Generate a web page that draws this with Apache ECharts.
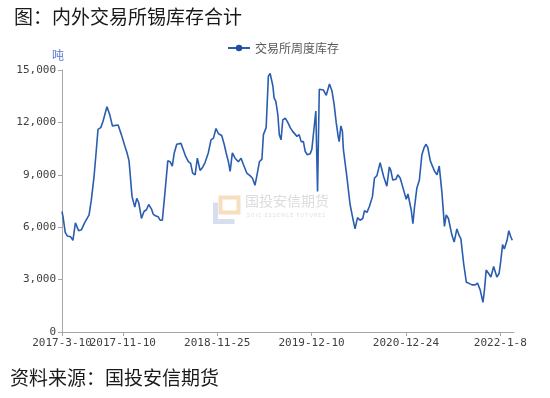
<!DOCTYPE html>
<html>
<head>
<meta charset="utf-8">
<script src="https://cdn.jsdelivr.net/npm/echarts@6/dist/echarts.min.js"></script>
<style>
  html, body { margin: 0; padding: 0; background: #fff; }
  #chart { width: 550px; height: 398px; }
</style>
</head>
<body>
<div id="chart"></div>
<script>
// weekly exchange tin stocks (tons)
const dates = [
  '2017-3-10', '2017-3-14', '2017-3-23', '2017-3-31', '2017-4-14', '2017-4-23', '2017-5-3', '2017-5-16',
  '2017-5-27', '2017-6-9', '2017-6-27', '2017-7-6', '2017-7-17', '2017-7-24', '2017-8-2', '2017-8-13',
  '2017-8-22', '2017-8-29', '2017-9-7', '2017-9-18', '2017-9-29', '2017-10-22', '2017-11-4', '2017-11-18',
  '2017-11-27', '2017-12-5', '2017-12-17', '2017-12-28', '2018-1-5', '2018-1-13', '2018-1-24', '2018-2-3',
  '2018-2-13', '2018-2-22', '2018-3-5', '2018-3-12', '2018-3-21', '2018-4-1', '2018-4-9', '2018-4-18',
  '2018-4-29', '2018-5-10', '2018-5-19', '2018-5-28', '2018-6-5', '2018-6-15', '2018-7-2', '2018-7-11',
  '2018-7-21', '2018-8-1', '2018-8-10', '2018-8-18', '2018-8-28', '2018-9-6', '2018-9-17', '2018-9-26',
  '2018-10-7', '2018-10-20', '2018-10-31', '2018-11-10', '2018-11-20', '2018-11-30', '2018-12-13', '2018-12-23',
  '2018-12-31', '2019-1-9', '2019-1-16', '2019-1-25', '2019-2-5', '2019-2-18', '2019-3-1', '2019-3-10',
  '2019-3-24', '2019-4-6', '2019-4-16', '2019-4-26', '2019-5-3', '2019-5-14', '2019-5-24', '2019-5-30',
  '2019-6-10', '2019-6-19', '2019-6-26', '2019-7-7', '2019-7-12', '2019-7-19', '2019-7-27', '2019-8-2',
  '2019-8-9', '2019-8-16', '2019-8-26', '2019-9-5', '2019-9-15', '2019-9-24', '2019-10-2', '2019-10-12',
  '2019-10-21', '2019-10-29', '2019-11-7', '2019-11-14', '2019-11-23', '2019-12-4', '2019-12-11', '2019-12-18',
  '2019-12-27', '2020-1-3', '2020-1-10', '2020-1-18', '2020-1-27', '2020-2-7', '2020-2-16', '2020-2-20',
  '2020-3-1', '2020-3-10', '2020-3-18', '2020-3-26', '2020-3-30', '2020-4-6', '2020-4-12', '2020-4-16',
  '2020-4-30', '2020-5-13', '2020-5-24', '2020-6-2', '2020-6-12', '2020-6-22', '2020-7-3', '2020-7-10',
  '2020-7-20', '2020-7-30', '2020-8-11', '2020-8-19', '2020-8-29', '2020-9-11', '2020-9-25', '2020-10-8',
  '2020-10-18', '2020-10-24', '2020-11-1', '2020-11-14', '2020-11-21', '2020-12-1', '2020-12-10', '2020-12-18',
  '2020-12-25', '2021-1-1', '2021-1-7', '2021-1-14', '2021-1-21', '2021-1-27', '2021-2-6', '2021-2-16',
  '2021-2-26', '2021-3-7', '2021-3-15', '2021-3-22', '2021-4-1', '2021-4-8', '2021-4-18', '2021-4-28',
  '2021-5-7', '2021-5-18', '2021-5-28', '2021-6-4', '2021-6-13', '2021-6-20', '2021-6-27', '2021-7-6',
  '2021-7-17', '2021-7-27', '2021-8-2', '2021-8-13', '2021-8-24', '2021-9-2', '2021-9-9', '2021-9-16',
  '2021-9-22', '2021-9-29', '2021-10-8', '2021-10-19', '2021-10-30', '2021-11-5', '2021-11-12', '2021-11-22',
  '2021-12-1', '2021-12-12', '2021-12-19', '2021-12-25', '2022-1-3', '2022-1-10', '2022-1-17', '2022-1-24',
  '2022-2-4', '2022-2-11', '2022-2-18', '2022-2-25'
]
const stocks = [
  6900, 6600, 5700, 5500, 5450, 5250, 6250, 5800,
  5850, 6250, 6700, 7550, 8900, 10050, 11600, 11700,
  12050, 11950, 12900, 12450, 11800, 11850, 11300, 10650,
  10250, 9800, 7750, 7150, 7650, 7400, 6500, 6900,
  7000, 7300, 7050, 6750, 6650, 6600, 6400, 6400,
  8050, 9800, 9750, 9500, 10250, 10750, 10800, 10450,
  10050, 9750, 9650, 9100, 9000, 9950, 9250, 9400,
  9700, 10250, 11000, 11100, 11650, 11350, 11250, 10750,
  10250, 9750, 9200, 10250, 9950, 9750, 9950, 9600,
  9100, 8950, 8800, 8400, 8900, 9750, 9900, 11300,
  11700, 14650, 14800, 14100, 13400, 13200, 12450, 11300,
  11000, 12150, 12250, 12000, 11700, 11500, 11400, 11200,
  11300, 10900, 10900, 10350, 10150, 10200, 10450, 10450,
  12650, 8050, 13900, 14000, 13850, 13550, 14000, 14200,
  13800, 13000, 12000, 11200, 10900, 11800, 11500, 10450,
  8900, 7300, 6500, 5900, 6550, 6400, 6500, 6950,
  6850, 7200, 7750, 8800, 8950, 9700, 8900, 8350,
  9450, 9250, 8700, 8750, 9000, 8800, 8350, 8350,
  7600, 7900, 8000, 7000, 6200, 7100, 8250, 8700,
  10150, 10550, 10750, 10550, 9800, 9850, 9200, 9000,
  9500, 7950, 6050, 6700, 6500, 6400, 5550, 5150,
  5900, 5500, 5350, 3950, 2850, 2800, 2850, 2700,
  2800, 2700, 2800, 2400, 1700, 2400, 3550, 3350,
  3150, 3750, 3750, 3150, 3350, 4100, 5000, 4750,
  5250, 5800, 5500, 5250
]
const xTickLabels = ['2017-3-10', '2017-11-10', '2018-11-25', '2019-12-10', '2020-12-24', '2022-1-8']
const xMin = '2017-3-10'
const xMax = '2022-3-4'
const yMax = 15000
const yStep = 3000

function toTime(s) {
  const p = s.split('-').map(Number)
  return new Date(p[0], p[1] - 1, p[2]).getTime()
}
function fmtDate(v) {
  const d = new Date(v)
  return d.getFullYear() + '-' + (d.getMonth() + 1) + '-' + d.getDate()
}
function fmtNum(v) {
  return String(v).replace(/\B(?=(\d{3})+(?!\d))/g, ',')
}

const cjk = '"Noto Sans CJK SC", sans-serif'
const mono = '"DejaVu Sans Mono", monospace'
const tickTimes = xTickLabels.map(toTime)
const labelStyle = { margin: 6, fontFamily: mono, fontSize: 11, color: '#404040', formatter: fmtDate }

const chart = echarts.init(document.getElementById('chart'))
chart.setOption({
  animation: false,
  title: {
    text: '图：内外交易所锡库存合计',
    left: 9,
    top: 2,
    textStyle: { fontFamily: cjk, fontSize: 19, fontWeight: 'normal', color: '#1a1a1a' }
  },
  legend: {
    data: ['交易所周度库存'],
    left: 222,
    top: 37,
    itemWidth: 22,
    itemHeight: 8,
    itemGap: 4,
    textStyle: { fontFamily: cjk, fontSize: 12, color: '#595959' }
  },
  grid: {
    left: 62,
    right: 36,
    top: 70,
    bottom: 66
  },
  graphic: [
    {
      type: 'rect', left: 218, top: 195,
      shape: { width: 18, height: 15 },
      style: { fill: 'none', stroke: '#f6dfbf', lineWidth: 4 }, z: 0
    },
    {
      type: 'polyline', left: 213, top: 200,
      shape: { points: [[0, 0], [0, 19], [19, 19]] },
      style: { fill: 'none', stroke: '#d6deef', lineWidth: 5 }, z: 0
    },
    {
      type: 'text', left: 245, top: 194,
      style: { text: '国投安信期货', fontFamily: cjk, fontSize: 14, fill: '#dcdcdc' }, z: 0
    },
    {
      type: 'text', left: 247, top: 213,
      style: { text: 'S D I C   E S S E N C E   F U T U R E S', fontFamily: cjk, fontSize: 5, fill: '#dcdcdc' }, z: 0
    },
    {
      type: 'text', left: 10, top: 368,
      style: { text: '资料来源：国投安信期货', fontFamily: cjk, fontSize: 19, fill: '#1a1a1a' }
    }
  ],
  xAxis: [
    {
      type: 'value',
      min: toTime(xMin),
      max: toTime(xMax),
      splitLine: { show: false },
      axisLine: { lineStyle: { color: '#a6a6a6' } },
      axisTick: { show: true, length: 4, customValues: tickTimes, lineStyle: { color: '#a6a6a6' } },
      axisLabel: Object.assign({ customValues: tickTimes.slice(1), showMinLabel: true, showMaxLabel: true }, labelStyle)
    },
    {
      // first date label drawn separately so it may overlap its neighbour, as in the source
      type: 'value',
      position: 'bottom',
      min: toTime(xMin),
      max: toTime(xMax),
      splitLine: { show: false },
      axisLine: { show: false },
      axisTick: { show: false },
      axisLabel: Object.assign({ customValues: tickTimes.slice(0, 1), showMinLabel: true }, labelStyle)
    }
  ],
  yAxis: {
    type: 'value',
    min: 0,
    max: yMax,
    interval: yStep,
    name: '吨',
    nameGap: 9,
    nameTextStyle: { fontFamily: cjk, fontSize: 12, color: '#5a78cf', align: 'right', padding: [0, -2, 0, 0] },
    splitLine: { show: false },
    axisLine: { show: true, lineStyle: { color: '#a6a6a6' } },
    axisTick: { show: true, length: 4, lineStyle: { color: '#a6a6a6' } },
    axisLabel: {
      formatter: fmtNum,
      margin: 6,
      fontFamily: mono,
      fontSize: 11,
      color: '#404040'
    }
  },
  series: [
    {
      name: '交易所周度库存',
      type: 'line',
      xAxisIndex: 0,
      data: dates.map((d, i) => [toTime(d), stocks[i]]),
      symbol: 'circle',
      symbolSize: 7,
      showSymbol: false,
      itemStyle: { color: '#1d4fa3' },
      lineStyle: { color: '#2a5db0', width: 1.6 },
      z: 3
    }
  ]
})
</script>
</body>
</html>
